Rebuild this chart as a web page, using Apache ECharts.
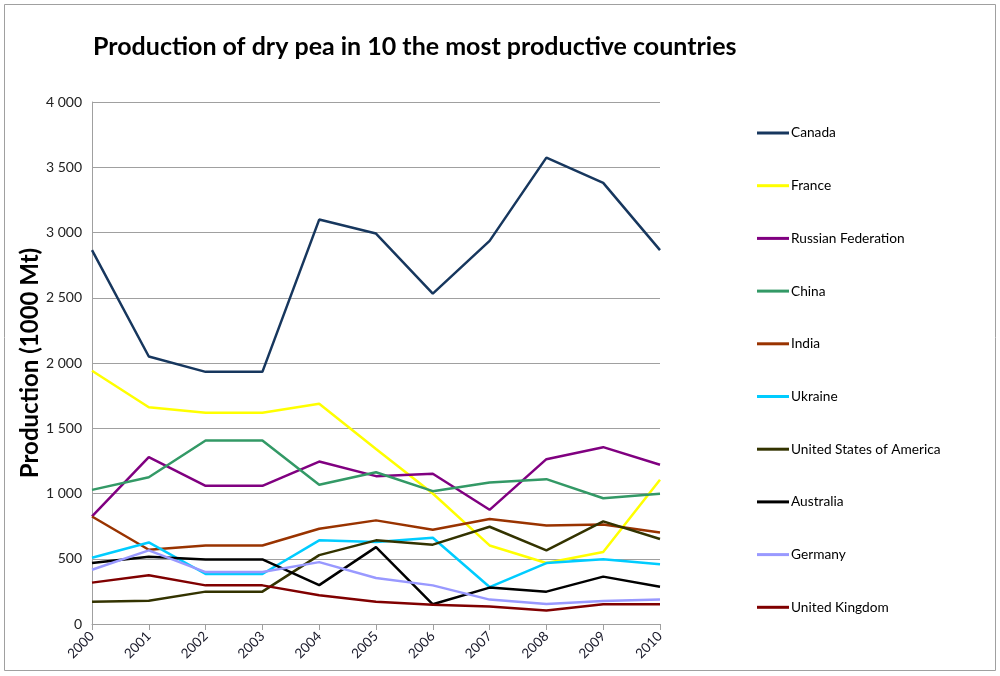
<!DOCTYPE html>
<html>
<head>
<meta charset="utf-8">
<title>Production of dry pea</title>
<script src="https://cdn.jsdelivr.net/npm/echarts@6/dist/echarts.min.js"></script>
<style>
    html, body { margin: 0; padding: 0; background: #fff; }
    #chart { width: 1000px; height: 676px; }
</style>
</head>
<body>
<div id="chart"></div>
<script>
// years on the x axis
var aYears = ['2000', '2001', '2002', '2003', '2004', '2005', '2006', '2007', '2008', '2009', '2010'];

// production, 1000 Mt
var aCanada = [2865, 2050, 1932, 1932, 3099, 2992, 2531, 2936, 3574, 3380, 2865];
var aFrance = [1941, 1661, 1618, 1618, 1687, 1341, 1000, 602, 467, 551, 1105];
var aRussia = [824, 1278, 1059, 1059, 1245, 1133, 1151, 875, 1263, 1355, 1220];
var aChina = [1028, 1125, 1406, 1406, 1067, 1163, 1018, 1084, 1110, 964, 998];
var aIndia = [824, 569, 602, 602, 730, 794, 722, 804, 755, 763, 702];
var aUkraine = [508, 625, 383, 383, 641, 628, 661, 283, 467, 497, 457];
var aUsa = [171, 179, 248, 248, 528, 641, 608, 745, 564, 786, 651];
var aAustralia = [467, 516, 495, 495, 298, 589, 151, 279, 248, 363, 286];
var aGermany = [416, 564, 398, 398, 474, 352, 296, 187, 153, 176, 187];
var aUk = [317, 373, 296, 296, 220, 171, 148, 135, 103, 151, 151];

var aNames = ['Canada', 'France', 'Russian Federation', 'China', 'India', 'Ukraine',
    'United States of America', 'Australia', 'Germany', 'United Kingdom'];
var aColors = ['#17375e', '#ffff00', '#800080', '#339966', '#993300', '#00ccff',
    '#333300', '#000000', '#9999ff', '#800000'];
var aValues = [aCanada, aFrance, aRussia, aChina, aIndia, aUkraine, aUsa, aAustralia, aGermany, aUk];

var cFont = 'Lato, "Open Sans", sans-serif';

// 千位空格分隔
function fmtNum(n) {
    return String(n).replace(/\B(?=(\d{3})+(?!\d))/g, ' ');
}

var oChart = echarts.init(document.getElementById('chart'));

var aSeries = [];
for (var i = 0; i < aNames.length; i++) {
    aSeries.push({
        name: aNames[i],
        type: 'line',
        data: aValues[i],
        symbol: 'none',
        lineStyle: { width: 2.5, color: aColors[i] },
        itemStyle: { color: aColors[i] }
    });
}

var oOption = {
    backgroundColor: '#fff',
    animation: false,
    title: {
        text: 'Production of dry pea in 10 the most productive countries',
        left: 88,
        top: 29,
        textStyle: { fontFamily: cFont, fontWeight: 'bold', fontSize: 25, color: '#000' }
    },
    legend: {
        orient: 'vertical',
        left: 752,
        top: 120,
        itemWidth: 32,
        itemHeight: 3,
        itemGap: 36.7,
        icon: 'rect',
        textStyle: { fontFamily: cFont, fontSize: 13.7, color: '#000', lineHeight: 16, padding: [0, 0, 0, -3] },
        data: aNames
    },
    grid: {
        left: 92,
        right: 340,
        top: 102,
        bottom: 52,
        containLabel: false
    },
    xAxis: {
        type: 'category',
        boundaryGap: false,
        data: aYears,
        axisLine: { lineStyle: { color: '#a0a0a0', width: 1 } },
        axisTick: { show: true, length: 6, lineStyle: { color: '#a0a0a0' } },
        axisLabel: {
            rotate: 45,
            margin: 10,
            fontFamily: cFont,
            fontSize: 13.5,
            color: '#1a1a2a'
        },
        splitLine: { show: false }
    },
    yAxis: {
        type: 'value',
        min: 0,
        max: 4000,
        interval: 500,
        name: 'Production (1000 Mt)',
        nameLocation: 'middle',
        nameGap: 50,
        nameMoveOverlap: false,
        nameTextStyle: { fontFamily: cFont, fontWeight: 'bold', fontSize: 24, color: '#000' },
        axisLine: { show: true, lineStyle: { color: '#a0a0a0', width: 1 } },
        axisTick: { show: false },
        axisLabel: {
            margin: 10,
            fontFamily: cFont,
            fontSize: 14,
            color: '#222',
            formatter: function (v) { return fmtNum(v); }
        },
        splitLine: { lineStyle: { color: '#a0a0a0', width: 1 } }
    },
    graphic: [{
        type: 'rect',
        shape: { x: 4.5, y: 4.5, width: 991, height: 666 },
        style: { fill: 'none', stroke: '#a0a0a0', lineWidth: 1 },
        silent: true
    }],
    series: aSeries
};

oChart.setOption(oOption, true);
</script>
</body>
</html>
